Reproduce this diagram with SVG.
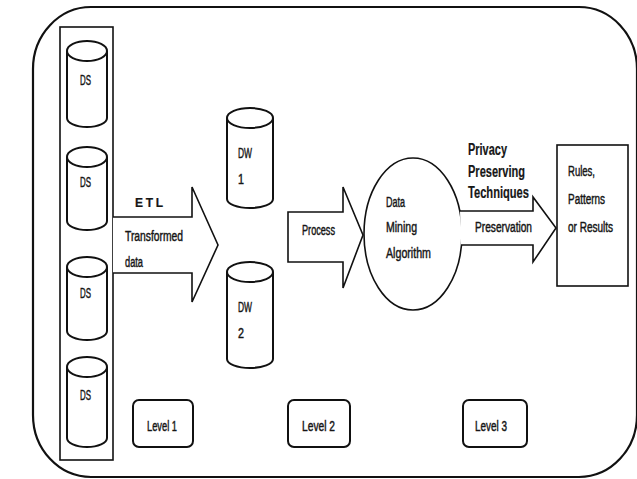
<svg xmlns="http://www.w3.org/2000/svg" width="637" height="479" viewBox="0 0 637 479">
  <style>
    .frame { fill: none; stroke: #111; stroke-width: 2.2; }
    .box { fill: #fff; stroke: #111; stroke-width: 1.6; }
    .cyl { fill: #fff; stroke: #111; stroke-width: 2; }
    .arrow { fill: #fff; stroke: #111; stroke-width: 1.6; stroke-linejoin: miter; }
    .lvl { fill: #fff; stroke: #111; stroke-width: 2; }
    text { font-family: "Liberation Sans", Arial, sans-serif; font-size: 14px; fill: #161616; stroke: #161616; stroke-width: 0.45; }
    .big { font-size: 16px; font-weight: bold; stroke-width: 0.2; }
    .etl { font-weight: bold; font-size: 12px; stroke-width: 0.2; }
  </style>

  <rect width="637" height="479" fill="#fff"/>

  <!-- outer boundary -->
  <rect class="frame" x="33" y="7" width="604" height="470" rx="58" ry="62"/>

  <!-- data sources column -->
  <g id="data-sources">
    <rect class="box" x="60" y="27" width="53" height="433"/>
    <g id="ds1">
      <path class="cyl" d="M67,51 V118 A20,9 0 0 0 107,118 V51 A20,10 0 0 0 67,51 A20,10 0 0 0 107,51"/>
      <text x="80" y="85" textLength="11" lengthAdjust="spacingAndGlyphs">DS</text>
    </g>
    <g id="ds2">
      <path class="cyl" d="M67,157 V221 A20,9 0 0 0 107,221 V157 A20,10 0 0 0 67,157 A20,10 0 0 0 107,157"/>
      <text x="80" y="187" textLength="11" lengthAdjust="spacingAndGlyphs">DS</text>
    </g>
    <g id="ds3">
      <path class="cyl" d="M67,267 V331 A20,9 0 0 0 107,331 V267 A20,10 0 0 0 67,267 A20,10 0 0 0 107,267"/>
      <text x="80" y="298" textLength="11" lengthAdjust="spacingAndGlyphs">DS</text>
    </g>
    <g id="ds4">
      <path class="cyl" d="M67,367 V438 A20,9 0 0 0 107,438 V367 A20,10 0 0 0 67,367 A20,10 0 0 0 107,367"/>
      <text x="80" y="400" textLength="11" lengthAdjust="spacingAndGlyphs">DS</text>
    </g>
  </g>

  <!-- data warehouses -->
  <g id="dw1">
    <path class="cyl" d="M227,118 V199 A23,9 0 0 0 273,199 V118 A23,10 0 0 0 227,118 A23,10 0 0 0 273,118"/>
    <text x="238" y="158" textLength="14" lengthAdjust="spacingAndGlyphs">DW</text>
    <text x="238" y="184" textLength="6" lengthAdjust="spacingAndGlyphs">1</text>
  </g>
  <g id="dw2">
    <path class="cyl" d="M227,272 V359 A23,9 0 0 0 273,359 V272 A23,10 0 0 0 227,272 A23,10 0 0 0 273,272"/>
    <text x="238" y="312" textLength="14" lengthAdjust="spacingAndGlyphs">DW</text>
    <text x="238" y="338" textLength="6" lengthAdjust="spacingAndGlyphs">2</text>
  </g>

  <!-- mining algorithm -->
  <g id="mining">
    <ellipse class="box" cx="413" cy="234" rx="49" ry="76"/>
    <text x="386" y="207" textLength="19" lengthAdjust="spacingAndGlyphs">Data</text>
    <text x="386" y="232" textLength="31" lengthAdjust="spacingAndGlyphs">Mining</text>
    <text x="386" y="258" textLength="45" lengthAdjust="spacingAndGlyphs">Algorithm</text>
  </g>

  <!-- output -->
  <g id="results">
    <rect class="box" x="557" y="145" width="71" height="141"/>
    <text x="568" y="176" textLength="27" lengthAdjust="spacingAndGlyphs">Rules,</text>
    <text x="568" y="204" textLength="37" lengthAdjust="spacingAndGlyphs">Patterns</text>
    <text x="568" y="232" textLength="45" lengthAdjust="spacingAndGlyphs">or Results</text>
  </g>

  <!-- flow arrows -->
  <g id="connectors">
    <g id="etl">
      <path class="arrow" d="M113,217 H192 V187 L218,245 L192,302 V273 H113"/>
      <text class="etl" x="135" y="207" textLength="28" lengthAdjust="spacing">E T L</text>
      <text x="125" y="241" textLength="58" lengthAdjust="spacingAndGlyphs">Transformed</text>
      <text x="125" y="267" textLength="18" lengthAdjust="spacingAndGlyphs">data</text>
    </g>
    <g id="process">
      <path class="arrow" d="M288,212 H343 V187 L363,235 L343,288 V262 H288 Z"/>
      <text x="302" y="235" textLength="33" lengthAdjust="spacingAndGlyphs">Process</text>
    </g>
    <g id="preservation">
      <path class="arrow" d="M460,211 H533 V197 L556,228 L533,262 V245 H461"/>
      <text x="475" y="232" textLength="57" lengthAdjust="spacingAndGlyphs">Preservation</text>
      <text class="big" x="468" y="155" textLength="39" lengthAdjust="spacingAndGlyphs">Privacy</text>
      <text class="big" x="468" y="177" textLength="57" lengthAdjust="spacingAndGlyphs">Preserving</text>
      <text class="big" x="468" y="198" textLength="61" lengthAdjust="spacingAndGlyphs">Techniques</text>
    </g>
  </g>

  <!-- level tags -->
  <g id="level1">
    <rect class="lvl" x="133" y="400" width="60" height="47" rx="6"/>
    <text x="147" y="431" textLength="30" lengthAdjust="spacingAndGlyphs">Level 1</text>
  </g>
  <g id="level2">
    <rect class="lvl" x="288" y="400" width="62" height="47" rx="6"/>
    <text x="302" y="431" textLength="33" lengthAdjust="spacingAndGlyphs">Level 2</text>
  </g>
  <g id="level3">
    <rect class="lvl" x="463" y="400" width="64" height="47" rx="6"/>
    <text x="475" y="431" textLength="32" lengthAdjust="spacingAndGlyphs">Level 3</text>
  </g>
</svg>
